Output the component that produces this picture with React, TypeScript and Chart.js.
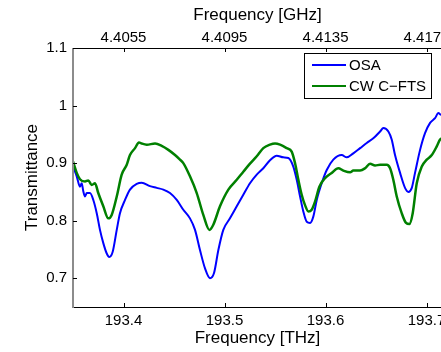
import React, { useEffect, useRef } from "react";
import { Chart, registerables } from "chart.js";

Chart.register(...registerables);

// OSA (blue) trace
const osaFreq = [
  193.35, 193.3537, 193.3569, 193.3586, 193.3602, 193.3619, 193.3636, 193.3668, 193.3701, 193.3735,
  193.3767, 193.38, 193.3834, 193.3859, 193.3893, 193.3933, 193.3965, 193.4015, 193.4064, 193.4131,
  193.418, 193.4262, 193.4329, 193.4394, 193.446, 193.4527, 193.4592, 193.4658, 193.4708, 193.4757,
  193.4807, 193.4856, 193.4896, 193.4939, 193.4988, 193.5054, 193.5121, 193.5186, 193.5252, 193.5319,
  193.5384, 193.545, 193.5517, 193.5582, 193.5632, 193.5681, 193.5715, 193.5748, 193.578, 193.5814,
  193.5847, 193.5879, 193.5913, 193.5962, 193.6012, 193.6077, 193.616, 193.621, 193.6275, 193.6342,
  193.6408, 193.6473, 193.654, 193.6573, 193.6622, 193.6655, 193.6688, 193.6738, 193.6787, 193.682,
  193.6854, 193.6886, 193.6936, 193.6985, 193.7035, 193.7084, 193.7117, 193.7144, 193.717,
];
const osaT = [
  0.894, 0.877, 0.859, 0.865, 0.851, 0.842, 0.848, 0.848, 0.836, 0.813,
  0.784, 0.761, 0.743, 0.737, 0.746, 0.784, 0.813, 0.836, 0.854, 0.864,
  0.866, 0.86, 0.857, 0.854, 0.848, 0.836, 0.819, 0.804, 0.784, 0.749,
  0.717, 0.7, 0.709, 0.749, 0.784, 0.804, 0.825, 0.845, 0.865, 0.88,
  0.891, 0.905, 0.913, 0.91, 0.909, 0.894, 0.871, 0.842, 0.816, 0.798,
  0.796, 0.807, 0.836, 0.865, 0.888, 0.906, 0.914, 0.91, 0.917, 0.926,
  0.935, 0.943, 0.955, 0.961, 0.955, 0.941, 0.914, 0.883, 0.857, 0.85,
  0.857, 0.883, 0.923, 0.952, 0.97, 0.978, 0.987, 0.984, 0.985,
];

// CW C-FTS (green) trace
const ftsFreq = [
  193.35, 193.3537, 193.3569, 193.3619, 193.3651, 193.3685, 193.3718, 193.375, 193.38, 193.385,
  193.3883, 193.3933, 193.3982, 193.4032, 193.4064, 193.4114, 193.4153, 193.418, 193.423, 193.4312,
  193.4378, 193.4444, 193.451, 193.4559, 193.4592, 193.4658, 193.4725, 193.479, 193.485, 193.4889,
  193.4955, 193.5038, 193.5121, 193.5186, 193.5252, 193.5319, 193.5384, 193.545, 193.55, 193.555,
  193.5616, 193.5665, 193.5698, 193.5731, 193.5764, 193.5797, 193.583, 193.5863, 193.5896, 193.5939,
  193.5995, 193.6061, 193.6127, 193.6176, 193.6243, 193.6275, 193.6342, 193.6391, 193.6441, 193.649,
  193.654, 193.6606, 193.6639, 193.6671, 193.6705, 193.6754, 193.6797, 193.683, 193.6863, 193.6903,
  193.6953, 193.7002, 193.7052, 193.7101, 193.7134, 193.717,
];
const ftsT = [
  0.903, 0.883, 0.872, 0.868, 0.87, 0.862, 0.865, 0.848, 0.825, 0.804,
  0.81, 0.842, 0.88, 0.897, 0.914, 0.926, 0.936, 0.934, 0.932, 0.934,
  0.93, 0.923, 0.914, 0.906, 0.9, 0.877, 0.848, 0.81, 0.784, 0.793,
  0.825, 0.854, 0.871, 0.885, 0.899, 0.912, 0.926, 0.932, 0.934, 0.932,
  0.926, 0.92, 0.9, 0.871, 0.845, 0.827, 0.816, 0.819, 0.833, 0.859,
  0.874, 0.883, 0.891, 0.887, 0.884, 0.887, 0.887, 0.891, 0.899, 0.896,
  0.897, 0.897, 0.891, 0.871, 0.842, 0.813, 0.796, 0.794, 0.813, 0.865,
  0.894, 0.906, 0.914, 0.929, 0.941, 0.945,
];

const yTicks = [0.7, 0.8, 0.9, 1.0, 1.1];
const yTickLabels = ["0.7", "0.8", "0.9", "1", "1.1"];
const thzTicks = [193.4, 193.5, 193.6, 193.7];
const thzTickLabels = ["193.4", "193.5", "193.6", "193.7"];
const ghzTicks = [4.4055, 4.4095, 4.4135, 4.4175];
const ghzTickLabels = ["4.4055", "4.4095", "4.4135", "4.4175"];
const seriesNames = ["OSA", "CW C\u2212FTS"];

const THZ_MIN = 193.35;
const THZ_MAX = 193.7153;
const GHZ_AT = (f: number) => 4.4055 + (f - 193.4) * 0.04;

const FONT = "'Liberation Sans', Arial, Helvetica, sans-serif";
const BLUE = "#0000ff";
const GREEN = "#008000";

const axesPlugin = {
  id: "matlabAxes",
  afterDatasetsDraw(chart: any) {
    const { ctx, chartArea, scales } = chart;
    const { left, right, top, bottom } = chartArea;
    ctx.save();
    // axis lines
    ctx.strokeStyle = "#000";
    ctx.lineWidth = 1;
    ctx.beginPath();
    ctx.moveTo(left, top + 0.5);
    ctx.lineTo(right, top + 0.5);
    ctx.moveTo(left, bottom + 0.5);
    ctx.lineTo(right, bottom + 0.5);
    ctx.stroke();
    ctx.strokeStyle = "#8c8c8c";
    ctx.lineWidth = 2;
    ctx.beginPath();
    ctx.moveTo(left, top);
    ctx.lineTo(left, bottom + 1);
    ctx.stroke();
    // tick marks (inward)
    ctx.strokeStyle = "#000";
    ctx.lineWidth = 1;
    ctx.beginPath();
    scales.x.ticks.forEach((t: any) => {
      const px = Math.round(scales.x.getPixelForValue(t.value)) + 0.5;
      ctx.moveTo(px, bottom);
      ctx.lineTo(px, bottom - 4);
    });
    scales.xTop.ticks.forEach((t: any) => {
      const px = Math.round(scales.xTop.getPixelForValue(t.value)) + 0.5;
      ctx.moveTo(px, top);
      ctx.lineTo(px, top + 4);
    });
    scales.y.ticks.forEach((t: any) => {
      const py = Math.round(scales.y.getPixelForValue(t.value)) + 0.5;
      ctx.moveTo(left, py);
      ctx.lineTo(left + 4, py);
    });
    ctx.stroke();

    // legend
    const bx = 304.5, by = 53.5, bw = 127, bh = 45;
    ctx.fillStyle = "#fff";
    ctx.fillRect(bx, by, bw, bh);
    ctx.strokeStyle = "#000";
    ctx.lineWidth = 1;
    ctx.strokeRect(bx, by, bw, bh);
    const rows = [
      { y: 65, color: BLUE, label: seriesNames[0] },
      { y: 86, color: GREEN, label: seriesNames[1] },
    ];
    ctx.font = `15px ${FONT}`;
    ctx.textBaseline = "middle";
    ctx.textAlign = "left";
    rows.forEach((r) => {
      ctx.strokeStyle = r.color;
      ctx.lineWidth = 2;
      ctx.beginPath();
      ctx.moveTo(312, r.y);
      ctx.lineTo(346, r.y);
      ctx.stroke();
      ctx.fillStyle = "#000";
      ctx.fillText(r.label, 349, r.y + 1);
    });
    ctx.restore();
  },
};

export default function App() {
  const ref = useRef<HTMLCanvasElement | null>(null);
  useEffect(() => {
    if (!ref.current) return;
    const osaData = osaFreq.map((f, i) => ({ x: f, y: osaT[i] }));
    const ftsData = ftsFreq.map((f, i) => ({ x: f, y: ftsT[i] }));
    const chart = new Chart(ref.current, {
      type: "line",
      data: {
        datasets: [
          {
            label: seriesNames[1],
            data: ftsData,
            borderColor: GREEN,
            borderWidth: 2.5,
            pointRadius: 0,
            cubicInterpolationMode: "monotone",
            fill: false,
          },
          {
            label: seriesNames[0],
            data: osaData,
            borderColor: BLUE,
            borderWidth: 2,
            pointRadius: 0,
            cubicInterpolationMode: "monotone",
            fill: false,
          },
        ],
      },
      options: {
        animation: false,
        responsive: false,
        devicePixelRatio: 1,
        layout: { padding: { left: 0, top: 0, right: 480 - 442, bottom: 0 } },
        plugins: { legend: { display: false }, tooltip: { enabled: false } },
        scales: {
          x: {
            type: "linear",
            position: "bottom",
            min: THZ_MIN,
            max: THZ_MAX,
            afterBuildTicks: (s: any) => {
              s.ticks = thzTicks.map((v) => ({ value: v }));
            },
            afterFit: (s: any) => {
              s.height = 45;
            },
            ticks: {
              callback: (_v: any, i: number) => thzTickLabels[i],
              font: { family: FONT, size: 15 },
              color: "#000",
              padding: 5,
              maxRotation: 0,
              autoSkip: false,
            },
            grid: { display: false, drawTicks: false },
            border: { display: false },
            title: {
              display: true,
              text: "Frequency [THz]",
              font: { family: FONT, size: 17 },
              color: "#000",
              padding: { top: 0, bottom: 3 },
            },
          },
          xTop: {
            type: "linear",
            position: "top",
            min: GHZ_AT(THZ_MIN),
            max: GHZ_AT(THZ_MAX),
            afterBuildTicks: (s: any) => {
              s.ticks = ghzTicks.map((v) => ({ value: v }));
            },
            afterFit: (s: any) => {
              s.height = 48;
            },
            ticks: {
              callback: (_v: any, i: number) => ghzTickLabels[i],
              font: { family: FONT, size: 15 },
              color: "#000",
              padding: 1,
              maxRotation: 0,
              autoSkip: false,
            },
            grid: { display: false, drawTicks: false },
            border: { display: false },
            title: {
              display: true,
              text: "Frequency [GHz]",
              font: { family: FONT, size: 17 },
              color: "#000",
              padding: { top: 5, bottom: 0 },
            },
          },
          y: {
            type: "linear",
            position: "left",
            min: 0.65,
            max: 1.1,
            afterBuildTicks: (s: any) => {
              s.ticks = yTicks.map((v) => ({ value: v }));
            },
            afterFit: (s: any) => {
              s.width = 73;
            },
            ticks: {
              callback: (_v: any, i: number) => yTickLabels[i],
              font: { family: FONT, size: 15 },
              color: "#000",
              padding: 6,
              autoSkip: false,
            },
            grid: { display: false, drawTicks: false },
            border: { display: false },
            title: {
              display: true,
              text: "Transmittance",
              font: { family: FONT, size: 17 },
              color: "#000",
              padding: { top: 22, bottom: 0 },
            },
          },
        },
      },
      plugins: [axesPlugin],
    } as any);
    return () => chart.destroy();
  }, []);

  return (
    <div
      style={{
        position: "fixed",
        left: 0,
        top: 0,
        width: 441,
        height: 352,
        overflow: "hidden",
        background: "#fff",
      }}
    >
      <canvas ref={ref} width={480} height={352} style={{ display: "block", width: 480, height: 352 }} />
    </div>
  );
}
